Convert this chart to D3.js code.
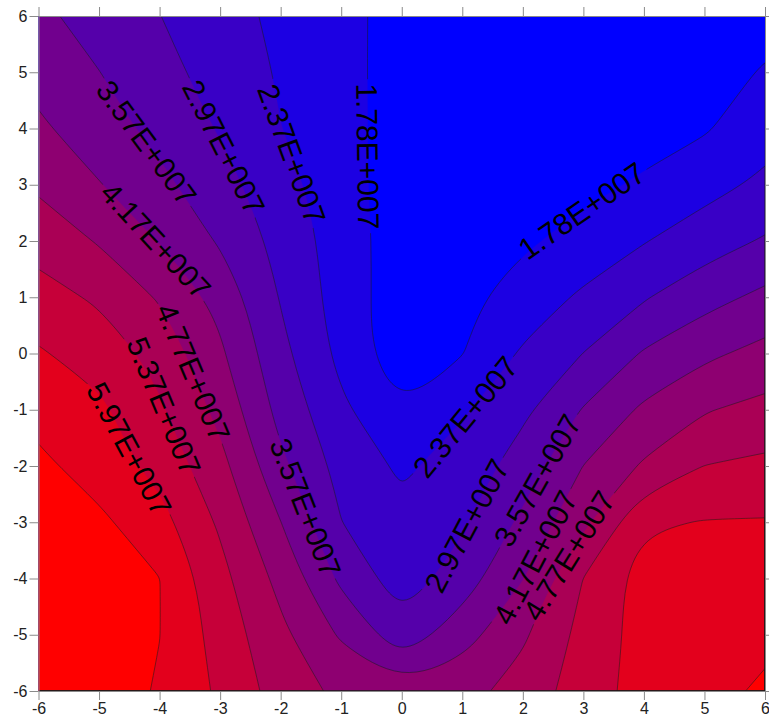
<!DOCTYPE html>
<html>
<head>
<meta charset="utf-8">
<script src="https://cdnjs.cloudflare.com/ajax/libs/d3/7.8.5/d3.min.js"></script>
<style>
    body { margin: 0; background: #fff; }
    #contour-area { width: 769px; height: 723px; }
    .axis text { font-family: "Liberation Sans", Arial, sans-serif; font-size: 16px; fill: #222; }
    .contour-label { font-family: "Liberation Sans", Arial, sans-serif; font-size: 30px; fill: #000; }
</style>
</head>
<body>
<div id="contour-area"></div>
<script>

// grid nodes
let xValues = [-6, -5, -4, -3, -2, -1, 0, 1, 2, 3, 4, 5, 6];
let yValues = [6, 5, 4, 3, 2, 1, 0, -1, -2, -3, -4, -5, -6];

// z values in units of 1E+007, one row per y node (first row is y = 6)
let zRows = [
    [3.70, 3.33, 2.98, 2.60, 2.24, 1.92, 1.60, 1.45, 1.35, 1.30, 1.30, 1.38, 1.53],
    [3.97, 3.58, 3.16, 2.73, 2.31, 1.94, 1.57, 1.45, 1.38, 1.36, 1.42, 1.55, 1.83],
    [4.27, 3.84, 3.39, 2.92, 2.38, 1.96, 1.55, 1.47, 1.42, 1.45, 1.55, 1.72, 2.13],
    [4.67, 4.20, 3.72, 3.19, 2.59, 2.02, 1.48, 1.45, 1.50, 1.62, 1.86, 2.17, 2.49],
    [5.14, 4.72, 4.14, 3.50, 2.78, 2.09, 1.47, 1.50, 1.68, 2.01, 2.34, 2.69, 3.03],
    [5.60, 5.28, 4.71, 3.98, 2.93, 2.10, 1.45, 1.62, 2.06, 2.46, 2.92, 3.36, 3.71],
    [6.03, 5.71, 5.17, 4.27, 3.14, 2.20, 1.36, 1.76, 2.44, 2.98, 3.63, 4.05, 4.35],
    [6.37, 6.09, 5.45, 4.60, 3.37, 2.49, 1.79, 2.30, 2.85, 3.61, 4.28, 4.73, 4.94],
    [6.70, 6.31, 5.77, 4.96, 3.71, 2.77, 2.27, 2.63, 3.23, 4.18, 4.85, 5.38, 5.50],
    [6.85, 6.69, 6.19, 5.28, 4.18, 2.98, 2.52, 2.89, 3.70, 4.63, 5.88, 6.00, 6.01],
    [6.95, 6.80, 6.58, 5.56, 4.59, 3.44, 2.65, 3.26, 4.15, 5.38, 6.25, 6.28, 6.22],
    [7.00, 6.85, 6.58, 5.73, 4.91, 4.09, 3.20, 3.92, 4.68, 5.56, 6.20, 6.35, 6.45],
    [7.05, 6.90, 6.51, 5.87, 5.11, 4.63, 4.32, 4.57, 5.00, 5.68, 6.20, 6.40, 6.65]
];
let zUnit = 1e7;

// contour levels (same units)
let levels = [1.78, 2.37, 2.97, 3.57, 4.17, 4.77, 5.37, 5.97, 6.57];

// labelled contours: level and where the label sits
let labelLevels = [1.78, 1.78, 2.37, 2.37, 2.97, 2.97, 3.57, 3.57, 3.57, 4.17, 4.17, 4.77, 4.77, 5.37, 5.97];
let labelX = [-0.57, 3.03, -1.86, 1.08, -2.98, 1.13, -4.24, -1.63, 2.23, -4.07, 2.12, -3.45, 2.81, -3.90, -4.50];
let labelY = [3.50, 2.46, 3.53, -1.15, 3.65, -3.10, 3.74, -2.75, -2.25, 2.02, -3.58, -0.33, -3.62, -0.93, -1.70];

let xTicks = [-6, -5, -4, -3, -2, -1, 0, 1, 2, 3, 4, 5, 6];
let yTicks = [-6, -5, -4, -3, -2, -1, 0, 1, 2, 3, 4, 5, 6];


function surferFormat(v) {
    let parts = v.toExponential(2).split("e");
    let e = +parts[1];
    return parts[0] + "E" + (e < 0 ? "-" : "+") + String(Math.abs(e)).padStart(3, "0");
}


class ContourVis {

    constructor(parentElement) {
        this.parentElement = parentElement;
        this.initVis();
    }

    initVis() {
        let vis = this;

        vis.margin = {top: 16, right: 4, bottom: 32, left: 38.5};
        vis.width = 769 - vis.margin.left - vis.margin.right;
        vis.height = 723 - vis.margin.top - vis.margin.bottom;

        // init drawing area
        vis.svg = d3.select("#" + vis.parentElement).append("svg")
            .attr("width", 769)
            .attr("height", 723);

        vis.defs = vis.svg.append("defs");
        vis.defs.append("clipPath").attr("id", "plot-clip")
            .append("rect")
            .attr("width", vis.width)
            .attr("height", vis.height);

        vis.mask = vis.defs.append("mask").attr("id", "label-mask")
            .attr("maskUnits", "userSpaceOnUse")
            .attr("x", 0).attr("y", 0)
            .attr("width", vis.width).attr("height", vis.height);
        vis.mask.append("rect")
            .attr("width", vis.width)
            .attr("height", vis.height)
            .attr("fill", "#fff");

        vis.g = vis.svg.append("g")
            .attr("transform", `translate(${vis.margin.left}, ${vis.margin.top})`);

        vis.x = d3.scaleLinear().domain([-6, 6]).range([0, vis.width]);
        vis.y = d3.scaleLinear().domain([-6, 6]).range([vis.height, 0]);

        // blue -> red bands
        vis.color = k => d3.interpolateRgb("#0000ff", "#ff0000")(k / levels.length);

        vis.plot = vis.g.append("g").attr("clip-path", "url(#plot-clip)");
        vis.fillGroup = vis.plot.append("g");
        vis.lineGroup = vis.plot.append("g").attr("mask", "url(#label-mask)");
        vis.labelGroup = vis.plot.append("g");

        vis.wrangleData();
    }

    wrangleData() {
        let vis = this;

        vis.nx = xValues.length;
        vis.ny = yValues.length;
        vis.values = zRows.flat();

        vis.contours = d3.contours()
            .size([vis.nx, vis.ny])
            .thresholds(levels)(vis.values);

        vis.updateVis();
    }

    updateVis() {
        let vis = this;

        let dx = xValues[1] - xValues[0];
        let dy = yValues[1] - yValues[0];
        // grid sample i sits at contour coordinate i + 0.5; the padding ring is pulled onto the edge nodes
        let clampC = (c, n) => Math.min(Math.max(c, 0.5), n - 0.5);
        let toPx = p => [
            vis.x(xValues[0] + (clampC(p[0], vis.nx) - 0.5) * dx),
            vis.y(yValues[0] + (clampC(p[1], vis.ny) - 0.5) * dy)
        ];
        let onEdge = p => p[0] <= 0.5 || p[0] >= vis.nx - 0.5 || p[1] <= 0.5 || p[1] >= vis.ny - 0.5;
        let basisOpen = d3.line().curve(d3.curveBasis);
        let basisClosed = d3.line().curve(d3.curveBasisClosed);

        // smooth the iso lines, keep the points where they meet the frame
        let ringPath = ring => {
            let pts = ring.slice(0, -1);
            let start = pts.findIndex(onEdge);
            if (start < 0) return basisClosed(pts.map(toPx));
            pts = pts.slice(start).concat(pts.slice(0, start));
            pts.push(pts[0]);
            let d = "M" + toPx(pts[0]).join(",");
            let run = [pts[0]];
            for (let k = 1; k < pts.length; k++) {
                run.push(pts[k]);
                if (onEdge(pts[k])) {
                    if (run.length > 2) d += basisOpen(run.map(toPx)).replace(/^M/, "L");
                    else d += "L" + toPx(pts[k]).join(",");
                    run = [pts[k]];
                }
            }
            return d + "Z";
        };
        let pathOf = c => c.coordinates.map(poly => poly.map(ringPath).join("")).join("");

        // lowest band
        vis.fillGroup.append("rect")
            .attr("x", -2).attr("y", -2)
            .attr("width", vis.width + 4)
            .attr("height", vis.height + 4)
            .attr("fill", vis.color(0));

        vis.fillGroup.selectAll(".band")
            .data(vis.contours)
            .enter().append("path")
            .attr("class", "band")
            .attr("d", pathOf)
            .attr("fill-rule", "evenodd")
            .attr("fill", (d, i) => vis.color(i + 1));

        vis.lines = vis.lineGroup.selectAll(".iso")
            .data(vis.contours)
            .enter().append("path")
            .attr("class", "iso")
            .attr("d", pathOf)
            .attr("fill", "none")
            .attr("stroke", "#1a1a1a")
            .attr("stroke-opacity", 0.75)
            .attr("stroke-width", 0.7);

        // labels sit on the contour line, turned along it
        let lineNodes = vis.lines.nodes();
        labelLevels.forEach((lev, i) => {
            let node = lineNodes[levels.indexOf(lev)];
            let ax = vis.x(labelX[i]), ay = vis.y(labelY[i]);
            let total = node.getTotalLength();
            let best = null;
            for (let s = 0; s <= total; s += 1.5) {
                let p = node.getPointAtLength(s);
                if (p.x < 1 || p.x > vis.width - 1 || p.y < 1 || p.y > vis.height - 1) continue;
                let dd = (p.x - ax) ** 2 + (p.y - ay) ** 2;
                if (!best || dd < best.dd) best = {dd: dd, s: s, x: p.x, y: p.y};
            }
            if (!best) return;
            let p0 = node.getPointAtLength(Math.max(0, best.s - 12));
            let p1 = node.getPointAtLength(Math.min(total, best.s + 12));
            let angle = Math.atan2(p1.y - p0.y, p1.x - p0.x) * 180 / Math.PI;
            if (angle > 90) angle -= 180;
            if (angle <= -90) angle += 180;

            let txt = vis.labelGroup.append("text")
                .attr("class", "contour-label")
                .attr("text-anchor", "middle")
                .attr("dy", "0.36em")
                .attr("transform", `translate(${best.x}, ${best.y}) rotate(${angle})`)
                .text(surferFormat(lev * zUnit));

            let len = txt.node().getComputedTextLength();
            vis.mask.append("rect")
                .attr("x", -len / 2 - 4)
                .attr("y", -13)
                .attr("width", len + 8)
                .attr("height", 26)
                .attr("fill", "#000")
                .attr("transform", `translate(${best.x}, ${best.y}) rotate(${angle})`);
        });

        // axes
        let axisColor = "#8a8a8a";
        vis.g.append("g").attr("class", "axis")
            .attr("transform", `translate(0, ${vis.height})`)
            .attr("color", axisColor)
            .call(d3.axisBottom(vis.x).tickValues(xTicks).tickSize(9).tickSizeOuter(0).tickPadding(3).tickFormat(d3.format("d")));
        vis.g.append("g").attr("class", "axis")
            .attr("color", axisColor)
            .call(d3.axisLeft(vis.y).tickValues(yTicks).tickSize(9).tickSizeOuter(0).tickPadding(2).tickFormat(d3.format("d")));
        vis.g.append("g").attr("class", "axis")
            .attr("color", axisColor)
            .call(d3.axisTop(vis.x).tickValues(xTicks).tickSize(9).tickSizeOuter(0).tickFormat(""));
        vis.g.append("g").attr("class", "axis")
            .attr("transform", `translate(${vis.width}, 0)`)
            .attr("color", axisColor)
            .call(d3.axisRight(vis.y).tickValues(yTicks).tickSize(9).tickSizeOuter(0).tickFormat(""));

        // minus sign like the original (hyphen)
        vis.g.selectAll(".axis text").text(function () {
            return d3.select(this).text().replace("\u2212", "-");
        });
    }
}

new ContourVis("contour-area");

</script>
</body>
</html>
